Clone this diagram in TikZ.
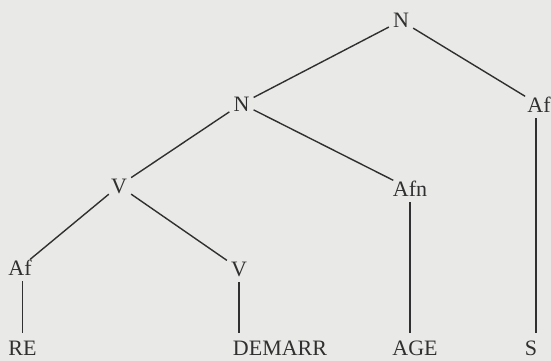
\documentclass[tikz,border=0pt]{standalone}
\usepackage{fontspec}
\setmainfont{Liberation Serif}
\definecolor{paper}{RGB}{233,234,231}
\definecolor{ink}{RGB}{48,48,48}
\begin{document}
\begin{tikzpicture}[x=1pt,y=-1pt,
  lab/.style={anchor=base, font=\fontsize{22}{26}\selectfont, text=ink,
    inner xsep=4pt, inner ysep=1pt, text height=14.5pt, text depth=0pt},
  edge/.style={draw=ink, line width=1.4pt},
  stem/.style={draw=ink, line width=1.4pt, shorten <=5pt, shorten >=6pt}]
\fill[paper] (0,0) rectangle (551,361);
\useasboundingbox (0,0) rectangle (551,361);
% nodes
\node[lab] (ntop)   at (401,28)   {N};
\node[lab] (nmid)   at (241.5,111) {N};
\node[lab] (afr)    at (539,112)  {Af};
\node[lab] (v)      at (119,193)  {V};
\node[lab] (afn)    at (410,196)  {Afn};
\node[lab] (afl)    at (20,275)   {Af};
\node[lab] (vlow)   at (239,276)  {V};
\node[lab] (re)     at (22.5,355) {RE};
\node[lab] (demarr) at (280,355) {DEMARR};
\node[lab] (age)    at (415,355)  {AGE};
\node[lab] (s)      at (531,355)  {S};
% branches
\draw[edge] (ntop) -- (nmid);
\draw[edge] (ntop) -- (afr);
\draw[edge] (nmid) -- (v);
\draw[edge] (nmid) -- (afn);
\draw[edge] (v) -- (afl);
\draw[edge] (v) -- (vlow);
% stems
\draw[stem] (re.north |- afl.south) -- (re.north);
\draw[stem] (vlow.south) -- (vlow.south |- demarr.north);
\draw[stem] (afn.south) -- (afn.south |- age.north);
\draw[stem] ([xshift=5pt]s.north |- afr.south) -- ([xshift=5pt]s.north);
\end{tikzpicture}
\end{document}
